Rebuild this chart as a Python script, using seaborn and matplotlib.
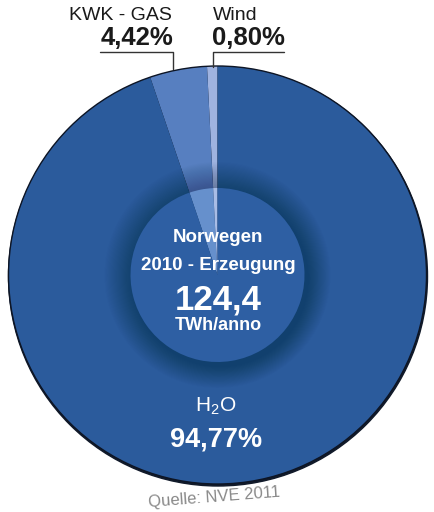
import matplotlib
matplotlib.use("Agg")
import matplotlib.pyplot as plt
import seaborn as sns
from matplotlib.patches import Circle

# Data: Norway electricity generation 2010
sources = ["Wind", "KWK - GAS", "H2O"]
shares = [0.80, 4.42, 94.77]
share_labels = ["0,80%", "4,42%", "94,77%"]
total_twh = "124,4"

colors = ["#9fb3e0", "#577fc0", "#2b5b9c"]
inner_colors = ["#a9bde6", "#6690cc", "#2e5fa3"]

sns.set_theme(style="white")
plt.rcParams["font.family"] = ["Liberation Sans", "DejaVu Sans"]
plt.rcParams["mathtext.fontset"] = "custom"
plt.rcParams["mathtext.rm"] = "Liberation Sans"

fig = plt.figure(figsize=(4.35, 5.12), dpi=100)
ax = fig.add_axes([0, 0, 1, 1])

cx, cy, R = 217.5, 237, 209
r_in = 87

# soft shadow under outer circle
ax.add_patch(Circle((cx + 0.5, cy - 1.5), R + 0.5, color="#111a2a", zorder=0))

wedges, _ = ax.pie(shares, colors=colors, startangle=90, counterclock=True,
                   center=(cx, cy), radius=R,
                   wedgeprops=dict(linewidth=0))
for w in wedges:
    w.set_zorder(1)
ax.add_patch(Circle((cx, cy), R, fill=False, ec="#0d1525", lw=1.0, zorder=2))

# soft shadow around inner disc, offset to lower right
n = 26
for i in range(n):
    f = 1 - i / n
    r = r_in + 26 * f
    ax.add_patch(Circle((cx + 3 * (1 - f), cy - 4 * (1 - f)), r,
                        color="#0a1a35", alpha=0.017, lw=0, zorder=3))

# inner disc: same shares, slightly lighter
inner, _ = ax.pie(shares, colors=inner_colors, startangle=90, counterclock=True,
                  center=(cx, cy), radius=r_in,
                  wedgeprops=dict(linewidth=0))
for w in inner:
    w.set_zorder(4)

ax.set_xlim(0, 435)
ax.set_ylim(0, 512)
ax.set_aspect("equal")
ax.axis("off")


def py(y):
    return 512 - y


# leader lines
ax.plot([100, 173, 173], [py(52), py(52), py(69)], color="#333333", lw=1.0, zorder=5)
ax.plot([284, 213, 213], [py(52), py(52), py(67)], color="#333333", lw=1.0, zorder=5)

# top labels
ax.text(172, py(15), sources[1], ha="right", va="center", fontsize=14, color="#1a1a1a")
ax.text(173, py(38), share_labels[1], ha="right", va="center", fontsize=18.5,
        fontweight="bold", color="#1a1a1a")
ax.text(213, py(15), sources[0], ha="left", va="center", fontsize=14, color="#1a1a1a")
ax.text(212, py(38), share_labels[0], ha="left", va="center", fontsize=18.5,
        fontweight="bold", color="#1a1a1a")

# centre text
ax.text(218, py(238), "Norwegen", ha="center", va="center", fontsize=13.5,
        fontweight="bold", color="white", zorder=6)
ax.text(218, py(265), "2010 - Erzeugung", ha="center", va="center", fontsize=13.5,
        fontweight="bold", color="white", zorder=6)
ax.text(218, py(300), total_twh, ha="center", va="center", fontsize=25,
        fontweight="bold", color="white", zorder=6)
ax.text(218, py(325), "TWh/anno", ha="center", va="center", fontsize=13,
        fontweight="bold", color="white", zorder=6)

# H2O label
ax.text(216, py(406), r"H$_2$O", ha="center", va="center", fontsize=15,
        color="white", zorder=6)
ax.text(216, py(440), share_labels[2], ha="center", va="center", fontsize=19.5,
        fontweight="bold", color="white", zorder=6)

# source note
ax.text(214, py(497), "Quelle: NVE 2011", ha="center", va="center", fontsize=12,
        color="#8a8a8a", rotation=4.5)

fig.savefig("out.png", dpi=100)
